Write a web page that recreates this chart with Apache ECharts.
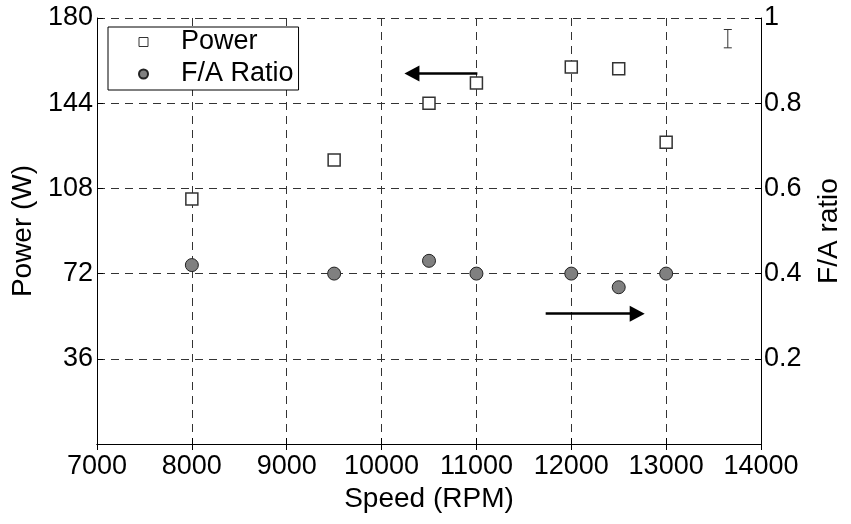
<!DOCTYPE html>
<html>
<head>
<meta charset="utf-8">
<script src="https://cdn.jsdelivr.net/npm/echarts@6/dist/echarts.min.js"></script>
<style>
  html, body { margin: 0; padding: 0; background: #fff; }
  #chart { width: 851px; height: 524px; }
</style>
</head>
<body>
<div id="chart"></div>
<script>
// Engine speed (RPM) at each measurement
const speeds = [8000, 9500, 10500, 11000, 12000, 12500, 13000];
// Output power (W)
const power = [103.5, 120, 144, 152.5, 159.3, 158.6, 127.5];
// Fuel/air ratio
const faRatio = [0.42, 0.4, 0.43, 0.4, 0.4, 0.368, 0.4];

// Representative error bar for F/A ratio: [speed, low, high]
const errorBar = [[13650, 0.93, 0.973]];

// Annotation arrows pointing to the axis each series belongs to
const powerArrow = { from: [11010, 156.5], to: [10320, 156.5] };
const ratioArrow = { from: [11730, 0.306], to: [12695, 0.306] };

const FONT = 'Liberation Sans, Arial, sans-serif';
const gridDash = { color: '#333', type: [8, 6], width: 1 };

const chart = echarts.init(document.getElementById('chart'), null, { renderer: 'canvas' });

chart.setOption({
  backgroundColor: '#fff',
  animation: false,
  textStyle: { fontFamily: FONT, color: '#000' },
  grid: { left: 97, right: 86, top: 18, bottom: 80, containLabel: false },
  legend: {
    data: [
      { name: 'Power', icon: 'rect', itemStyle: { color: '#fff', borderColor: '#333', borderWidth: 1 } },
      { name: 'F/A Ratio', icon: 'circle' }
    ],
    orient: 'vertical',
    left: 108,
    top: 27,
    padding: [0, 5, 1, 30],
    itemGap: 2,
    itemWidth: 9,
    itemHeight: 9,
    borderColor: '#000',
    borderWidth: 1,
    backgroundColor: '#fff',
    textStyle: { fontFamily: FONT, fontSize: 27, color: '#000', lineHeight: 30, padding: [0, 0, 0, 28] },
    selectedMode: false
  },
  xAxis: [
    {
      type: 'value',
      min: 7000, max: 14000, interval: 1000,
      name: 'Speed (RPM)',
      nameLocation: 'middle',
      nameGap: 40,
      nameTextStyle: { fontFamily: FONT, fontSize: 28, color: '#000' },
      axisLine: { show: true, lineStyle: { color: '#000', width: 1 } },
      axisTick: { show: true, inside: true, length: 6, lineStyle: { color: '#000' } },
      axisLabel: { fontFamily: FONT, fontSize: 27, color: '#000', margin: 9, formatter: v => String(v) },
      splitLine: { show: true, lineStyle: gridDash }
    },
    {
      type: 'value',
      position: 'top',
      min: 7000, max: 14000, interval: 1000,
      axisLine: { show: true, lineStyle: { color: '#000', width: 1 } },
      axisTick: { show: true, inside: true, length: 6, lineStyle: { color: '#000' } },
      axisLabel: { show: false },
      splitLine: { show: false }
    }
  ],
  yAxis: [
    {
      type: 'value',
      min: 0, max: 180, interval: 36,
      name: 'Power (W)',
      nameLocation: 'middle',
      nameGap: 54,
      nameRotate: 90,
      nameTextStyle: { fontFamily: FONT, fontSize: 28, color: '#000' },
      axisLine: { show: true, lineStyle: { color: '#000', width: 1 } },
      axisTick: { show: true, inside: true, length: 6, lineStyle: { color: '#000' } },
      axisLabel: {
        fontFamily: FONT, fontSize: 27, color: '#000', margin: 4,
        formatter: v => (v === 0 ? '' : String(v))
      },
      splitLine: { show: true, lineStyle: gridDash }
    },
    {
      type: 'value',
      position: 'right',
      min: 0, max: 1, interval: 0.2,
      name: 'F/A ratio',
      nameLocation: 'middle',
      nameGap: 54,
      nameRotate: 90,
      nameTextStyle: { fontFamily: FONT, fontSize: 28, color: '#000' },
      axisLine: { show: true, lineStyle: { color: '#000', width: 1 } },
      axisTick: { show: true, inside: true, length: 6, lineStyle: { color: '#000' } },
      axisLabel: {
        fontFamily: FONT, fontSize: 27, color: '#000', margin: 3,
        formatter: v => (v === 0 ? '' : String(+v.toFixed(1)))
      },
      splitLine: { show: false }
    }
  ],
  series: [
    {
      name: 'Power',
      type: 'scatter',
      xAxisIndex: 0,
      yAxisIndex: 0,
      symbol: 'rect',
      symbolSize: 12,
      z: 5,
      itemStyle: { color: '#fff', borderColor: '#333', borderWidth: 1.5, opacity: 1 },
      emphasis: { disabled: true },
      data: speeds.map((s, i) => [s, power[i]]),
      markLine: {
        silent: true,
        symbol: ['none', 'triangle'],
        symbolSize: [16, 15],
        label: { show: false },
        lineStyle: { color: '#000', width: 2.5, type: 'solid' },
        emphasis: { disabled: true },
        data: [[{ coord: powerArrow.from }, { coord: powerArrow.to }]]
      }
    },
    {
      name: 'F/A Ratio',
      type: 'scatter',
      xAxisIndex: 0,
      yAxisIndex: 1,
      symbol: 'circle',
      symbolSize: 13,
      z: 5,
      itemStyle: { color: '#808080', borderColor: '#222', borderWidth: 1, opacity: 1 },
      emphasis: { disabled: true },
      data: speeds.map((s, i) => [s, faRatio[i]]),
      markLine: {
        silent: true,
        symbol: ['none', 'triangle'],
        symbolSize: [16, 15],
        label: { show: false },
        lineStyle: { color: '#000', width: 2.5, type: 'solid' },
        emphasis: { disabled: true },
        data: [[{ coord: ratioArrow.from }, { coord: ratioArrow.to }]]
      }
    },
    {
      name: 'error',
      type: 'custom',
      xAxisIndex: 0,
      yAxisIndex: 1,
      silent: true,
      z: 5,
      data: errorBar,
      renderItem: function (params, api) {
        const x = api.value(0);
        const lo = api.coord([x, api.value(1)]);
        const hi = api.coord([x, api.value(2)]);
        const half = 4;
        const style = { stroke: '#333', lineWidth: 1 };
        return {
          type: 'group',
          children: [
            { type: 'line', shape: { x1: lo[0], y1: lo[1], x2: hi[0], y2: hi[1] }, style },
            { type: 'line', shape: { x1: lo[0] - half, y1: lo[1], x2: lo[0] + half, y2: lo[1] }, style },
            { type: 'line', shape: { x1: hi[0] - half, y1: hi[1], x2: hi[0] + half, y2: hi[1] }, style }
          ]
        };
      }
    }
  ]
});
</script>
</body>
</html>
